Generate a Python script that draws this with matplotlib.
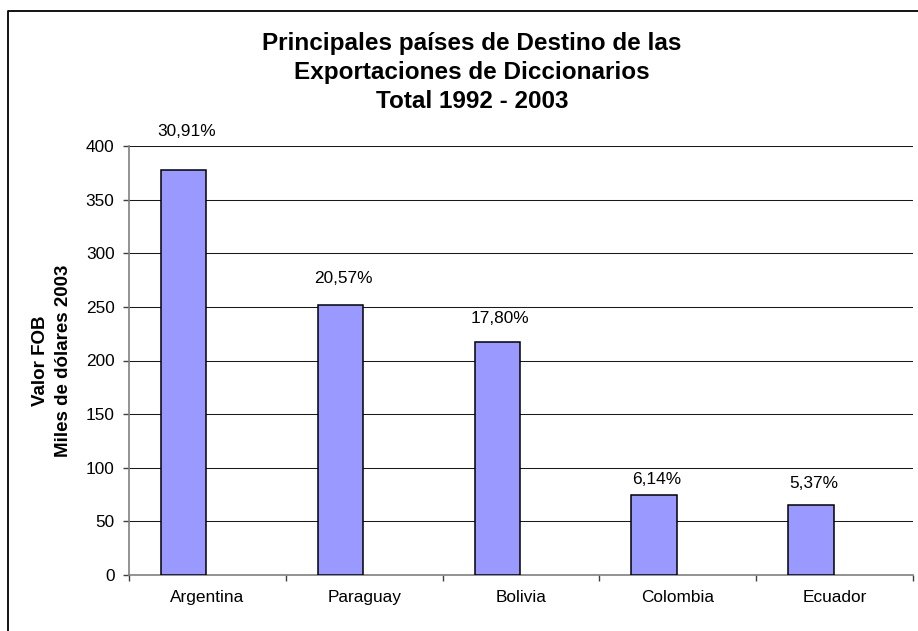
import matplotlib
matplotlib.use("Agg")
import matplotlib.pyplot as plt
from matplotlib.lines import Line2D
import numpy as np

# ---- data ----
categories = ["Argentina", "Paraguay", "Bolivia", "Colombia", "Ecuador"]
values = [377.7, 251.4, 217.5, 75.0, 65.6]
pct_labels = ["30,91%", "20,57%", "17,80%", "6,14%", "5,37%"]
title_lines = ["Principales países de Destino de las",
               "Exportaciones de Diccionarios",
               "Total 1992 - 2003"]
ylabel_text = "Valor FOB\nMiles de dólares 2003"
yticks = [0, 50, 100, 150, 200, 250, 300, 350, 400]

# label offsets above bar tops (pixels) - layout only
label_offsets_px = [38, 27, 23, 15, 21]

plt.rcParams['font.family'] = ['Liberation Sans', 'DejaVu Sans']

W, H = 918, 631
DPI = 100
fig = plt.figure(figsize=(W / DPI, H / DPI), dpi=DPI)
fig.patch.set_facecolor("white")

# figure border (top and left visible)
fig.add_artist(Line2D([7.5 / W, 7.5 / W, 1.0], [0.0, 1 - 11 / H, 1 - 11 / H],
                      transform=fig.transFigure, color="black", lw=1.3))

ax_left, ax_right = 129 / W, 913 / W
ax_bottom, ax_top = 1 - 575 / H, 1 - 146 / H
ax = fig.add_axes([ax_left, ax_bottom, ax_right - ax_left, ax_top - ax_bottom])

x = np.arange(len(categories))
bar_w = 0.29
bar_x = x - 0.151
ax.bar(bar_x, values, width=bar_w, color="#9999FF", edgecolor="black",
       linewidth=1.1, zorder=3)

ax.set_xlim(-0.5, len(categories) - 0.5)
ax.set_ylim(0, 400)
ax.set_yticks(yticks)
ax.set_yticklabels([str(t) for t in yticks], fontsize=12.4)
ax.yaxis.grid(True, color="#1a1a1a", lw=0.75, zorder=0)
ax.set_axisbelow(True)

# x ticks at category boundaries; labels at centers
ax.set_xticks(np.arange(len(categories) + 1) - 0.5)
ax.set_xticklabels([])
ax.set_xticks(x, minor=True)
ax.set_xticklabels(categories, minor=True, fontsize=12.4)
ax.tick_params(axis="x", which="major", direction="out", length=4, width=1, color="#404040")
ax.tick_params(axis="x", which="minor", length=0, pad=11)
ax.tick_params(axis="y", direction="out", length=4, width=1, color="#404040", pad=6.5)

for s in ["top", "right"]:
    ax.spines[s].set_visible(False)
for s in ["left", "bottom"]:
    ax.spines[s].set_color("#808080")
    ax.spines[s].set_linewidth(1.2)

# percentage labels
for xi, v, lab, off in zip(bar_x, values, pct_labels, label_offsets_px):
    ax.annotate(lab, xy=(xi, v), xytext=(2, off * 72 / DPI),
                textcoords="offset points", ha="center", va="center",
                fontsize=12.4, annotation_clip=False)

# title (three lines)
for line, base in zip(title_lines, [50, 79, 108]):
    fig.text(472 / W, 1 - base / H, line, ha="center", va="baseline",
             fontsize=17.5, fontweight="bold")

# y label
fig.text(52 / W, 1 - 361 / H, ylabel_text, rotation=90, ha="center", va="center",
         fontsize=13.5, fontweight="bold", multialignment="center", linespacing=1.45)

fig.savefig("out.png", dpi=DPI)
